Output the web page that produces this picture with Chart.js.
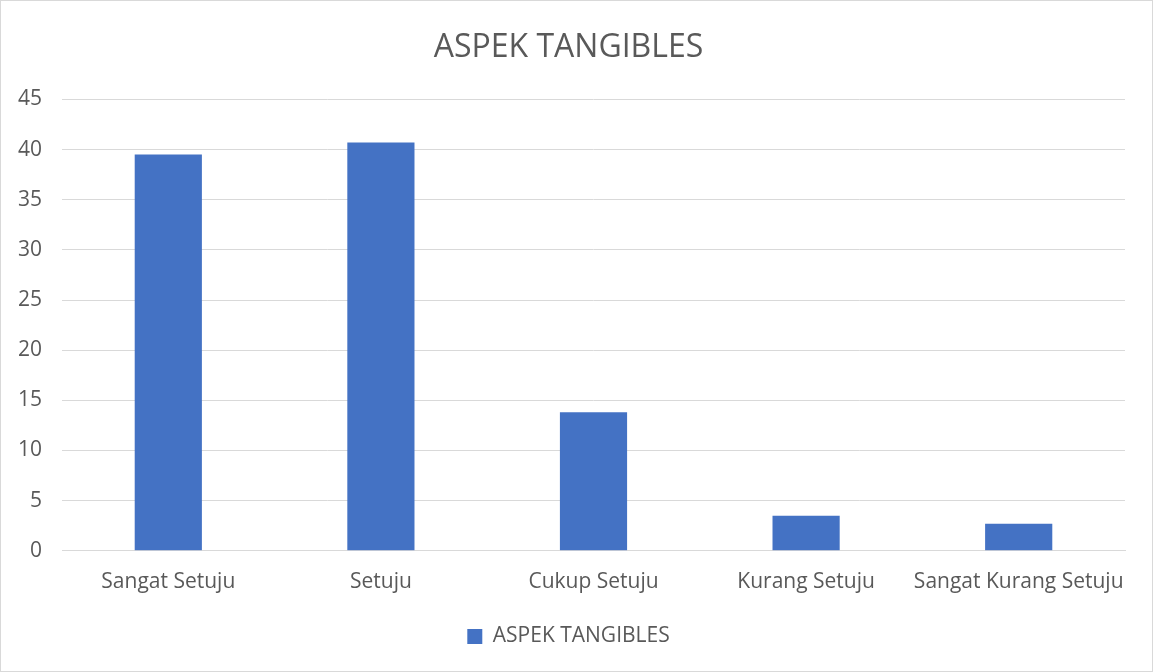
<!DOCTYPE html>
<html>
<head>
<meta charset="utf-8">
<script src="https://cdn.jsdelivr.net/npm/chart.js@4.4.1/dist/chart.umd.min.js"></script>
<style>
    html, body { margin: 0; padding: 0; background: #fff; }
    #wrap { width: 1153px; height: 672px; }
</style>
</head>
<body>
<div id="wrap"><canvas id="tangibles" width="1153" height="672"></canvas></div>
<script>
const categories = ['Sangat Setuju', 'Setuju', 'Cukup Setuju', 'Kurang Setuju', 'Sangat Kurang Setuju'];
const tangiblesValues = [39.5, 40.7, 13.8, 3.5, 2.7];
const yTicks = [0, 5, 10, 15, 20, 25, 30, 35, 40, 45];
const seriesName = 'ASPEK TANGIBLES';

const textGray = '#595959';
const fontFamily = '"Open Sans", "Noto Sans", sans-serif';

// thin grey frame round the chart like the office export
const frame = {
    id: 'frame',
    afterDraw(chart) {
        const ctx = chart.ctx;
        ctx.save();
        ctx.strokeStyle = '#d9d9d9';
        ctx.lineWidth = 1;
        ctx.strokeRect(0.5, 0.5, chart.width - 1, chart.height - 1);
        ctx.restore();
    }
};

new Chart(document.getElementById('tangibles'), {
    type: 'bar',
    data: {
        labels: categories,
        datasets: [{
            label: seriesName,
            data: tangiblesValues,
            backgroundColor: '#4472c4',
            borderWidth: 0,
            barPercentage: 0.316,
            categoryPercentage: 1
        }]
    },
    options: {
        responsive: false,
        animation: false,
        layout: { padding: { left: 12, right: 28, top: 8, bottom: 15 } },
        plugins: {
            title: {
                display: true,
                text: seriesName,
                color: textGray,
                font: { family: fontFamily, size: 32, weight: 'normal' },
                padding: { top: 21, bottom: 32 }
            },
            legend: {
                position: 'bottom',
                labels: {
                    color: textGray,
                    font: { family: fontFamily, size: 21 },
                    boxWidth: 15,
                    boxHeight: 15,
                    padding: 20
                }
            },
            tooltip: { enabled: false }
        },
        scales: {
            x: {
                grid: { display: false },
                border: { color: '#d9d9d9' },
                ticks: {
                    color: textGray,
                    font: { family: fontFamily, size: 21 },
                    padding: 11,
                    maxRotation: 0,
                    minRotation: 0,
                    autoSkip: false
                }
            },
            y: {
                min: 0,
                max: 45,
                afterBuildTicks(axis) { axis.ticks = yTicks.map(v => ({ value: v })); },
                afterFit(axis) { axis.width = 50; },
                grid: { color: '#d9d9d9', drawTicks: false },
                border: { display: false },
                ticks: { color: textGray, font: { family: fontFamily, size: 21 }, padding: 20 }
            }
        }
    },
    plugins: [frame]
});
</script>
</body>
</html>
